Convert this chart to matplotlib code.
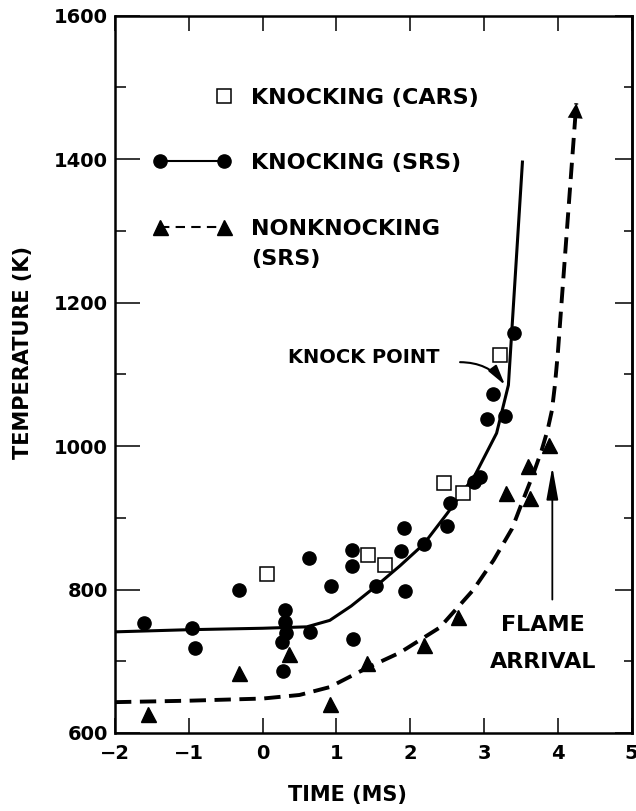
import matplotlib
matplotlib.use("Agg")
import matplotlib.pyplot as plt
from matplotlib.legend_handler import HandlerLine2D
from matplotlib.lines import Line2D
from matplotlib.ticker import MultipleLocator

plt.rcParams['font.family'] = ['DejaVu Sans']
plt.rcParams['font.weight'] = 'bold'
plt.rcParams['axes.labelweight'] = 'bold'

# knocking, CARS (open squares)
cars_t = [0.06, 1.43, 1.66, 2.46, 2.72, 3.22]
cars_T = [822, 848, 834, 948, 935, 1127]

# knocking, SRS (filled circles)
srs_t = [-1.61, -0.95, -0.91, -0.32, 0.31, 0.31, 0.32, 0.26, 0.28, 0.64, 0.63,
         0.92, 1.21, 1.21, 1.22, 1.54, 1.91, 1.87, 1.93, 2.18, 2.50, 2.54,
         2.87, 2.95, 3.04, 3.29, 3.12, 3.40]
srs_T = [753, 747, 718, 799, 772, 755, 739, 727, 686, 741, 844,
         805, 855, 833, 731, 805, 886, 854, 798, 863, 889, 921,
         950, 957, 1038, 1042, 1073, 1157]

# nonknocking, SRS (filled triangles)
nk_t = [-1.55, -0.32, 0.36, 0.91, 1.41, 2.18, 2.65, 3.30, 3.59, 3.62, 3.88]
nk_T = [627, 683, 710, 640, 698, 722, 762, 935, 972, 927, 1002]

# hand-drawn fit curves
knock_fit_t = [-2.0, -1.0, 0.0, 0.6, 0.91, 1.2, 1.54, 1.86, 2.18, 2.5, 2.88,
               3.17, 3.33, 3.52]
knock_fit_T = [741, 744, 746, 748, 757, 777, 805, 833, 863, 906, 960,
               1018, 1085, 1396]
nk_fit_t = [-2.0, -1.0, 0.0, 0.5, 0.91, 1.4, 1.86, 2.4, 2.85, 3.13, 3.38,
            3.51, 3.67, 3.78, 3.86, 3.92, 3.96, 4.0, 4.05, 4.25]
nk_fit_T = [643, 645, 648, 653, 664, 690, 712, 747, 799, 841, 885,
            920, 962, 994, 1022, 1050, 1085, 1130, 1200, 1478]

# annotation anchors
knock_point = (3.285, 1085)
knock_label = (2.40, 1123)
flame_tip = (3.925, 971)
flame_tail = (3.925, 786)


class EndMarker(HandlerLine2D):
    # only mark the right end of the legend handle
    def create_artists(self, *args, **kwargs):
        arts = super().create_artists(*args, **kwargs)
        arts[0].set_markevery([1])
        return arts


fig = plt.figure(figsize=(6.36, 8.11), dpi=100)
ax = fig.add_axes([0.1808, 0.0962, 0.8124, 0.8844])

ax.plot(knock_fit_t, knock_fit_T, '-', color='black', lw=2.2, zorder=2)
ax.plot(nk_fit_t, nk_fit_T, color='black', lw=2.8, ls=(0, (4.2, 2.2)), zorder=2)
ax.annotate('', xy=(nk_fit_t[-1], nk_fit_T[-1]), xytext=(nk_fit_t[-2], nk_fit_T[-2]),
            arrowprops=dict(arrowstyle='-|>', mutation_scale=27, color='black',
                            lw=0, shrinkA=0, shrinkB=0))

ax.plot(cars_t, cars_T, 's', ms=10, mfc='white', mec='black', mew=1.1, zorder=3)
ax.plot(srs_t, srs_T, 'o', ms=9.5, color='black', zorder=4)
ax.plot(nk_t, nk_T, '^', ms=10.8, color='black', zorder=4)

# knock point
ax.text(knock_label[0], knock_label[1], 'KNOCK POINT', ha='right', va='center', fontsize=14)
ax.annotate('', xy=knock_point, xytext=(2.675, 1117),
            arrowprops=dict(arrowstyle='-|>,head_length=0.8,head_width=0.2', mutation_scale=15,
                            connectionstyle='arc3,rad=-0.25', lw=1.5, color='black',
                            shrinkA=0, shrinkB=0))

# flame arrival
ax.annotate('', xy=flame_tip, xytext=flame_tail,
            arrowprops=dict(arrowstyle='-|>,head_length=1.0,head_width=0.18', mutation_scale=20,
                            lw=1.3, color='black', shrinkA=0, shrinkB=0))
ax.text(3.8, 750, 'FLAME', ha='center', va='center', fontsize=16)
ax.text(3.8, 699, 'ARRIVAL', ha='center', va='center', fontsize=16)

# legend
h_cars = Line2D([], [], ls='none', marker='s', ms=10, mfc='white', mec='black', mew=1.1)
h_srs = Line2D([], [], ls='-', color='black', lw=1.5, marker='o', ms=9.5)
h_nk = Line2D([], [], ls=(0, (4.5, 3)), color='black', lw=1.5, marker='^', ms=10.8)
leg = ax.legend([h_cars, h_srs, h_nk],
                ['KNOCKING (CARS)', 'KNOCKING (SRS)', 'NONKNOCKING\n(SRS)'],
                handler_map={h_cars: EndMarker()}, numpoints=2,
                loc='upper left', bbox_to_anchor=(0.0743, 0.8997), borderaxespad=0,
                borderpad=0, frameon=False, fontsize=16, handlelength=3.5,
                handletextpad=0.9, labelspacing=2.05)
leg.get_texts()[2].set_linespacing(1.65)
# align the two-line entry's handle with its first line
leg._legend_handle_box.get_children()[0].get_children()[2].align = 'top'

ax.set_xlim(-2, 5)
ax.set_ylim(600, 1600)
ax.set_xticks(range(-2, 6))
ax.set_yticks(range(600, 1601, 200))
ax.yaxis.set_minor_locator(MultipleLocator(100))
ax.tick_params(which='both', direction='in', top=True, right=False, width=1.1, labelsize=14)
ax.tick_params(axis='x', which='major', length=11, pad=8)
ax.tick_params(axis='y', which='major', length=18, pad=5)
ax.tick_params(axis='y', which='minor', length=8)

sec = ax.secondary_yaxis('right')
sec.set_yticks(range(600, 1601, 200))
sec.yaxis.set_minor_locator(MultipleLocator(100))
sec.tick_params(which='both', direction='in', width=1.1, labelright=False)
sec.tick_params(which='major', length=12)
sec.tick_params(which='minor', length=6)
sec.spines['right'].set_linewidth(1.8)

for s in ax.spines.values():
    s.set_linewidth(1.8)

ax.set_xlabel('TIME (MS)', fontsize=15)
ax.xaxis.set_label_coords(0.449, -0.0725)
ax.set_ylabel('TEMPERATURE (K)', fontsize=15)
ax.yaxis.set_label_coords(-0.159, 0.531)

fig.savefig('out.png', dpi=100)
